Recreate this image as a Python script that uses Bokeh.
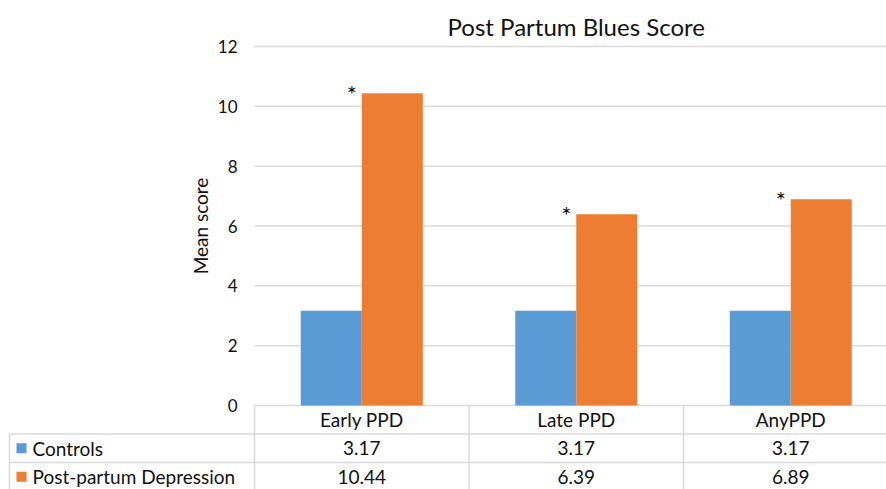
from bokeh.plotting import figure
from bokeh.models import Range1d, FixedTicker, ColumnDataSource
from bokeh.core.properties import value
from bokeh.embed import file_html
from bokeh.resources import INLINE
import math

# ---- data ----
categories = ["Early PPD", "Late PPD", "AnyPPD"]
series_names = ["Controls", "Post-partum Depression"]
controls = [3.17, 3.17, 3.17]
ppd = [10.44, 6.39, 6.89]
y_ticks = [0, 2, 4, 6, 8, 10, 12]
marks = ["*", "*", "*"]
title_text = "Post Partum Blues Score"
y_title = "Mean score"

# ---- style / layout ----
FONT = "Lato"
BLUE = "#5B9BD5"
ORANGE = "#ED7D31"
GRID = "#d9d9d9"
BORDER = "#d9d9d9"
TEXT = "#111111"

W, H = 886, 489
TOP_PX = 46            # y = 12 gridline position from the top (px)
PLOT_LEFT = 254        # left edge of plot area (px)
CAT_PX = 214.5         # pixels per category
UNIT_PX = 359 / 12     # pixels per y unit
ROW_PX = 28.5          # table row height (px)
BAR_W = 61 / CAT_PX

x0 = -PLOT_LEFT / CAT_PX
x1 = (W - PLOT_LEFT) / CAT_PX
y_top = 12 + TOP_PX / UNIT_PX
y0 = -(H - TOP_PX - 12 * UNIT_PX) / UNIT_PX
ROW = ROW_PX / UNIT_PX
n = len(categories)
xs = [i + 0.5 for i in range(n)]

p = figure(width=W, height=H, output_backend="svg", toolbar_location=None,
           x_range=Range1d(x0, x1), y_range=Range1d(y0, y_top),
           x_axis_type=None, min_border_left=0, min_border_right=0,
           min_border_top=0, min_border_bottom=0)
p.outline_line_color = None
p.xgrid.visible = False
p.ygrid.visible = False

# y axis drawn at the left edge of the plot area (x = 0)
p.yaxis.fixed_location = 0
p.yaxis.ticker = FixedTicker(ticks=y_ticks)
p.yaxis.axis_line_color = None
p.yaxis.major_tick_line_color = None
p.yaxis.minor_tick_line_color = None
p.yaxis.major_label_text_font = FONT
p.yaxis.major_label_text_font_size = "17px"
p.yaxis.major_label_text_color = TEXT
p.yaxis.major_label_standoff = 11

# horizontal grid lines at the tick values
p.segment(x0=[0] * len(y_ticks), y0=y_ticks, x1=[n + 1] * len(y_ticks), y1=y_ticks,
          line_color=GRID, line_width=1.5)

# chart title, centred over the plot area
p.text(x=[n / 2], y=[12 + 20 / UNIT_PX], text=[title_text],
       text_font=value(FONT), text_font_size="24px", text_color=TEXT,
       text_align="center", text_baseline="middle")

# y axis title
p.text(x=[-54 / CAT_PX], y=[6], text=[y_title], angle=math.pi / 2,
       text_font=value(FONT), text_font_size="19px", text_color=TEXT,
       text_align="center", text_baseline="middle")

src = ColumnDataSource(dict(
    xb=[x - BAR_W / 2 for x in xs],
    xo=[x + BAR_W / 2 for x in xs],
    controls=controls, ppd=ppd,
    xs_star=[x - 10 / CAT_PX for x in xs],
    ys_star=ppd,
    marks=marks,
))
p.vbar(x="xb", top="controls", bottom=0, width=BAR_W, source=src,
       fill_color=BLUE, line_color=None)
p.vbar(x="xo", top="ppd", bottom=0, width=BAR_W, source=src,
       fill_color=ORANGE, line_color=None)
p.text(x="xs_star", y="ys_star", text="marks", source=src,
       text_font=value(FONT), text_font_size="24px", text_color=TEXT,
       text_align="center", text_baseline="middle")

# ---- data table under the plot ----
tbl_left = x0 + 9 / CAT_PX
rows_y = [0, -ROW, -2 * ROW]
p.segment(x0=[tbl_left, tbl_left], y0=rows_y[1:], x1=[n + 1, n + 1], y1=rows_y[1:],
          line_color=BORDER, line_width=1.5)
p.segment(x0=[0, 1, 2, 3, tbl_left], y0=[0, 0, 0, 0, rows_y[1]],
          x1=[0, 1, 2, 3, tbl_left], y1=[y0] * 5,
          line_color=BORDER, line_width=1.5)

TFS = "19px"
mid = [-(k + 0.5) * ROW for k in range(3)]
p.text(x=xs, y=[mid[0]] * n, text=categories, text_font=value(FONT),
       text_font_size=TFS, text_color=TEXT, text_align="center", text_baseline="middle")
p.text(x=xs, y=[mid[1]] * n, text=[f"{v:.2f}" for v in controls], text_font=value(FONT),
       text_font_size=TFS, text_color=TEXT, text_align="center", text_baseline="middle")
p.text(x=xs, y=[mid[2]] * n, text=[f"{v:.2f}" for v in ppd], text_font=value(FONT),
       text_font_size=TFS, text_color=TEXT, text_align="center", text_baseline="middle")

key_x = tbl_left + 12 / CAT_PX
p.scatter(x=[key_x, key_x], y=mid[1:], marker="square", size=10,
          fill_color=[BLUE, ORANGE], line_color=None)
p.text(x=[tbl_left + 23 / CAT_PX] * 2, y=mid[1:], text=series_names,
       text_font=value(FONT), text_font_size=TFS, text_color=TEXT,
       text_align="left", text_baseline="middle")

open("out.html", "w").write(file_html(p, INLINE))
